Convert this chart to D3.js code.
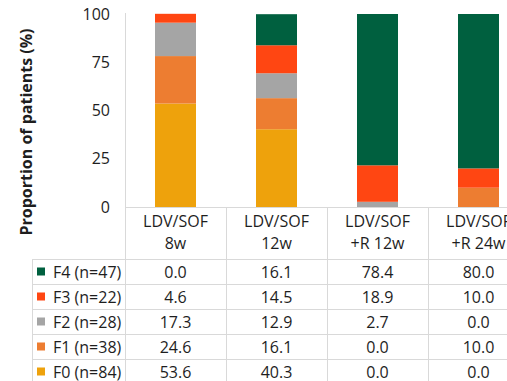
<!DOCTYPE html>
<html><head><meta charset="utf-8">
<script src="https://cdn.jsdelivr.net/npm/d3@7"></script>
<style>body{margin:0;background:#fff;}svg{display:block;font-family:"Open Sans",sans-serif;}</style>
</head><body>
<svg id="c" width="507" height="381"></svg>
<script>
const categories = [["LDV/SOF","8w"],["LDV/SOF","12w"],["LDV/SOF","+R 12w"],["LDV/SOF","+R 24w"]];
const seriesNames = ["F4 (n=47)","F3 (n=22)","F2 (n=28)","F1 (n=38)","F0 (n=84)"];
const seriesKeys = ["F4","F3","F2","F1","F0"];
const F4 = [0.0, 16.1, 78.4, 80.0];
const F3 = [4.6, 14.5, 18.9, 10.0];
const F2 = [17.3, 12.9, 2.7, 0.0];
const F1 = [24.6, 16.1, 0.0, 10.0];
const F0 = [53.6, 40.3, 0.0, 0.0];
const yTicks = [0, 25, 50, 75, 100];
const colors = {F4:"#00603f", F3:"#ff4612", F2:"#a5a5a5", F1:"#ed7d31", F0:"#eea20c"};

const seriesVals = {F4, F3, F2, F1, F0};
const rows = categories.map((c,i)=>{const o={i}; seriesKeys.forEach(k=>o[k]=seriesVals[k][i]); return o;});
const stack = d3.stack().keys(["F0","F1","F2","F3","F4"])(rows);

const svg = d3.select("#c");
const x0 = 125, colW = 101;
const x = d3.scaleBand().domain(d3.range(categories.length)).range([x0, x0 + colW*categories.length]).paddingInner(0).paddingOuter(0);
const y = d3.scaleLinear().domain([0,100]).range([207,14]);
const barW = 41;
const grid = "#d9d9d9";
const ink = "#1e1e1e";

// bars
svg.append("g").selectAll("g").data(stack).join("g").attr("fill", d=>colors[d.key])
  .selectAll("rect").data(d=>d).join("rect")
  .attr("x", (d,i)=>x(i) + x.bandwidth()/2 - barW/2)
  .attr("width", barW)
  .attr("y", d=>y(d[1]))
  .attr("height", d=>Math.max(0, y(d[0]) - y(d[1])));

// y axis
const ya = svg.append("g").attr("transform","translate(110,0)")
  .call(d3.axisLeft(y).tickValues(yTicks).tickSize(0).tickPadding(0));
ya.select(".domain").remove();
ya.selectAll("text").attr("font-size","16px").attr("fill",ink).attr("font-family","'Open Sans',sans-serif");

svg.append("text").attr("transform","translate(32,132) rotate(-90)")
  .attr("text-anchor","middle").attr("font-size","16px").attr("font-weight","bold").attr("fill",ink)
  .text("Proportion of patients (%)");

// table lines
const rowTop = 259, rowH = 25;
const lines = svg.append("g").attr("stroke", grid).attr("stroke-width",1).attr("shape-rendering","crispEdges");
lines.append("line").attr("x1",x0).attr("x2",x0).attr("y1",13).attr("y2",381);
lines.append("line").attr("x1",x0).attr("x2",507).attr("y1",207.5).attr("y2",207.5);
categories.forEach((c,i)=>{ if(i>0) lines.append("line").attr("x1",x(i)).attr("x2",x(i)).attr("y1",207).attr("y2",381); });
lines.append("line").attr("x1",32).attr("x2",32).attr("y1",rowTop).attr("y2",381);
for (let r=0;r<=seriesKeys.length;r++){
  lines.append("line").attr("x1",32).attr("x2",507).attr("y1",rowTop+r*rowH+0.5).attr("y2",rowTop+r*rowH+0.5);
}

// header
const hdr = svg.append("g").attr("font-size","16px").attr("fill",ink).attr("text-anchor","middle");
categories.forEach((c,i)=>{
  hdr.append("text").attr("x", x(i)+x.bandwidth()/2).attr("y",227).text(c[0]);
  hdr.append("text").attr("x", x(i)+x.bandwidth()/2).attr("y",249).text(c[1]);
});

// rows
seriesKeys.forEach((k,r)=>{
  const cy = rowTop + r*rowH + rowH/2;
  svg.append("rect").attr("x",37).attr("y",cy-4).attr("width",8).attr("height",8).attr("fill",colors[k]);
  svg.append("text").attr("x",53).attr("y",cy+6).attr("font-size","16px").attr("fill",ink).text(seriesNames[r]);
  seriesVals[k].forEach((v,i)=>{
    svg.append("text").attr("x",x(i)+x.bandwidth()/2).attr("y",cy+6).attr("text-anchor","middle")
      .attr("font-size","16px").attr("fill",ink).text(v.toFixed(1));
  });
});
</script>
</body></html>
